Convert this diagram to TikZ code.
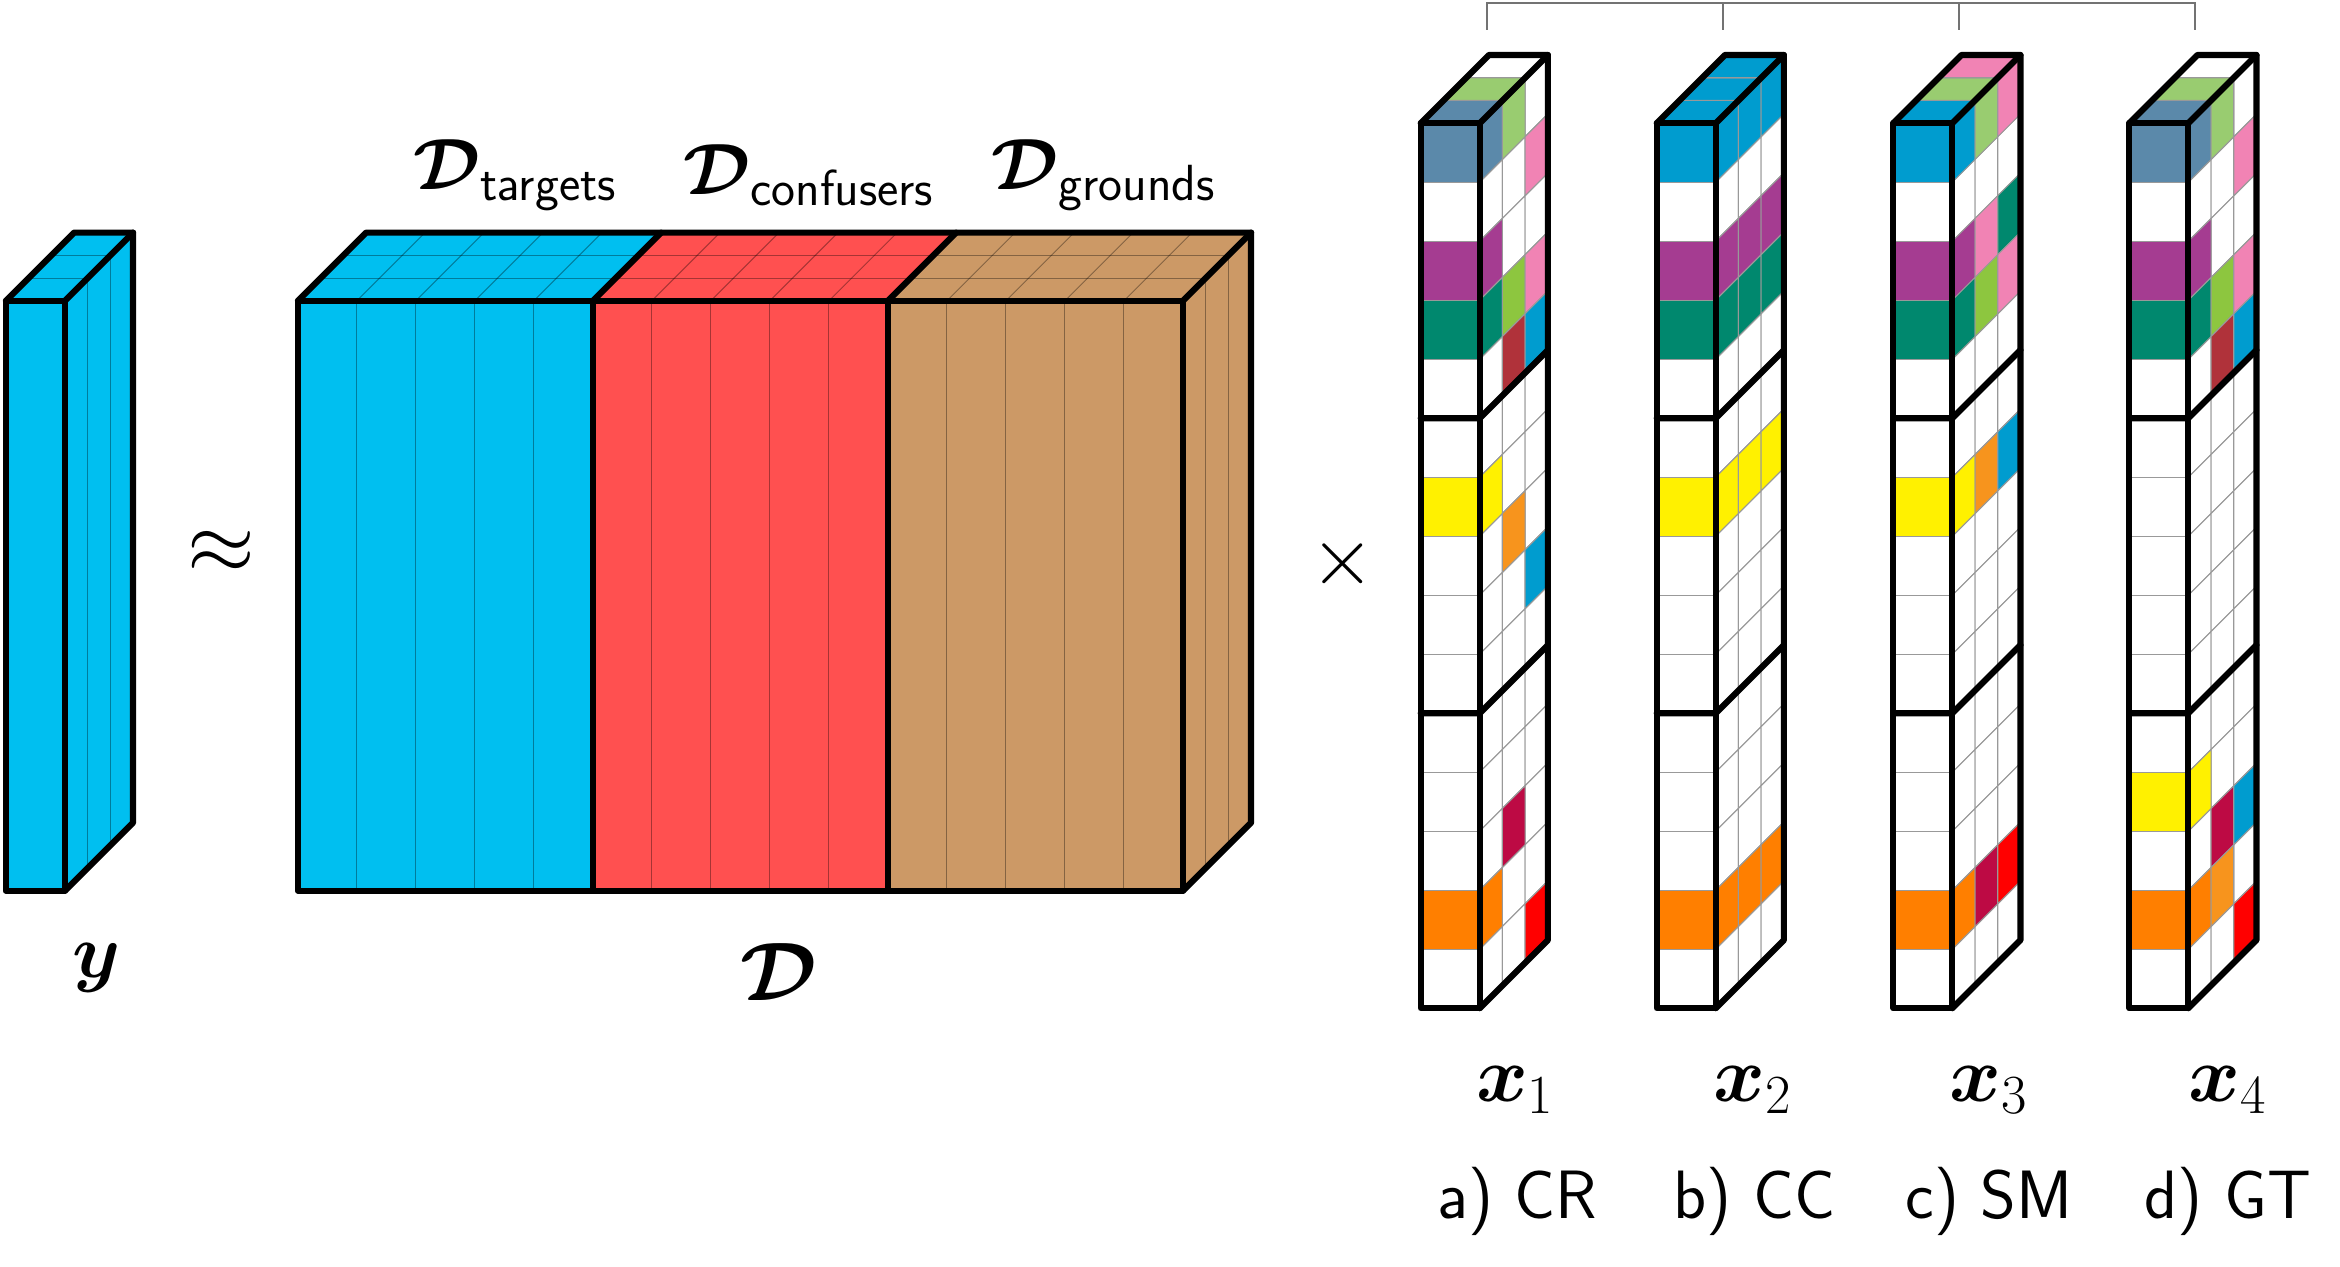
\RequirePackage{fix-cm}
\documentclass[tikz,border=0pt]{standalone}
\usepackage{amsmath,bm}
\usetikzlibrary{positioning}

%% colours
\definecolor{cCyan}{HTML}{00BFF0}
\definecolor{cSalmon}{HTML}{FF5050}
\definecolor{cTan}{HTML}{CC9966}
\definecolor{cSteel}{HTML}{5B89AA}
\definecolor{cLgreen}{HTML}{99CC70}
\definecolor{cPink}{HTML}{F183B4}
\definecolor{cPurple}{HTML}{A53C91}
\definecolor{cTeal}{HTML}{00886E}
\definecolor{cLime}{HTML}{8DC63F}
\definecolor{cDred}{HTML}{B0323A}
\definecolor{cBlue}{HTML}{009CCF}
\definecolor{cYellow}{HTML}{FFF100}
\definecolor{cOrangeB}{HTML}{F7941D}
\definecolor{cOrange}{HTML}{FF7F00}
\definecolor{cCrimson}{HTML}{BD0A44}
\definecolor{cRed}{HTML}{FF0000}

\tikzset{
  thick line/.style={line width=3pt, line join=round, line cap=round},
  grid line/.style={draw=black!40, line width=0.5pt},
  shade line/.style={draw=black, draw opacity=0.35, line width=0.5pt},
  lbl/.style={font=\fontsize{38}{42}\selectfont, inner sep=0pt},
  caption/.style={font=\sffamily\fontsize{33}{37}\selectfont, inner sep=0pt},
}

%% depth of one layer
\newcommand{\dep}{0.385}

%% one cell of a code column: row, layer, colour
\newcommand{\xcell}[3]{%
  \pgfmathsetmacro{\ra}{-#1}%
  \pgfmathsetmacro{\rb}{-#1-1}%
  \pgfmathsetmacro{\da}{#2*\dep}%
  \pgfmathsetmacro{\db}{(#2+1)*\dep}%
  \ifnum#2=0 \filldraw[grid line, fill=#3] (0,\ra) rectangle (1,\rb);\fi
  \filldraw[grid line, fill=#3] (1+\da,\ra+\da) -- (1+\db,\ra+\db) -- (1+\db,\rb+\db) -- (1+\da,\rb+\da) -- cycle;
  \ifnum#1=0 \filldraw[grid line, fill=#3] (\da,\da) -- (1+\da,\da) -- (1+\db,\db) -- (\db,\db) -- cycle;\fi
}

%% outline of a box: width, height
\newcommand{\boxoutline}[2]{%
  \draw[thick line] (0,0) rectangle (#1,-#2);
  \draw[thick line] (0,0) -- (3*\dep,3*\dep) -- (#1+3*\dep,3*\dep) -- (#1+3*\dep,-#2+3*\dep) -- (#1,-#2);
  \draw[thick line] (#1,0) -- (#1+3*\dep,3*\dep);
}

%% empty code column with its outline
\newcommand{\xframe}{%
  \foreach \row in {0,...,14}{\foreach \lay in {0,1,2}{\xcell{\row}{\lay}{white}}}
}
\newcommand{\xoutline}{%
  \boxoutline{1}{15}
  \foreach \k in {5,10}{\draw[thick line] (0,-\k) -- (1,-\k) -- (1+3*\dep,-\k+3*\dep);}
}

\begin{document}
\begin{tikzpicture}

\useasboundingbox (0,0) rectangle (39.661,21.458);

%% y
\begin{scope}[shift={(0.1,16.36)}]
\fill[cCyan] (0,0) rectangle (1,-10);
\fill[cCyan] (1,0) -- (1+3*\dep,3*\dep) -- (1+3*\dep,-10+3*\dep) -- (1,-10) -- cycle;
\fill[cCyan] (0,0) -- (3*\dep,3*\dep) -- (1+3*\dep,3*\dep) -- (1,0) -- cycle;
\foreach \k in {1,2}{
  \draw[shade line] (1+\k*\dep,\k*\dep) -- (1+\k*\dep,-10+\k*\dep);
  \draw[shade line] (\k*\dep,\k*\dep) -- (1+\k*\dep,\k*\dep);
}
\boxoutline{1}{10}
\end{scope}

%% D
\begin{scope}[shift={(5.05,16.36)}]
\foreach \i/\col in {0/cCyan,5/cSalmon,10/cTan}{
  \fill[\col] (\i,0) rectangle (\i+5,-10);
  \fill[\col] (\i,0) -- (\i+3*\dep,3*\dep) -- (\i+5+3*\dep,3*\dep) -- (\i+5,0) -- cycle;
  \foreach \k in {1,2}{\draw[shade line] (\i+\k*\dep,\k*\dep) -- (\i+5+\k*\dep,\k*\dep);}
}
\fill[cTan] (15,0) -- (15+3*\dep,3*\dep) -- (15+3*\dep,-10+3*\dep) -- (15,-10) -- cycle;
\foreach \i in {1,...,14}{
  \draw[shade line] (\i,0) -- (\i,-10);
  \draw[shade line] (\i,0) -- (\i+3*\dep,3*\dep);
}
\foreach \k in {1,2}{\draw[shade line] (15+\k*\dep,\k*\dep) -- (15+\k*\dep,-10+\k*\dep);}
\boxoutline{15}{10}
\foreach \i in {5,10}{\draw[thick line] (\i,0) -- (\i,-10); \draw[thick line] (\i,0) -- (\i+3*\dep,3*\dep);}
\end{scope}

%% x1 (CR)
\begin{scope}[shift={(24.08,19.37)}]
\xframe
\foreach \row/\lay/\col in {0/0/cSteel,2/0/cPurple,3/0/cTeal,6/0/cYellow,13/0/cOrange,
  0/1/cLgreen,3/1/cLime,4/1/cDred,7/1/cOrangeB,12/1/cCrimson,
  1/2/cPink,3/2/cPink,4/2/cBlue,8/2/cBlue,14/2/cRed}{\xcell{\row}{\lay}{\col}}
\xoutline
\end{scope}

%% x2 (CC)
\begin{scope}[shift={(28.08,19.37)}]
\xframe
\foreach \lay in {0,1,2}{
  \foreach \row/\col in {0/cBlue,2/cPurple,3/cTeal,6/cYellow,13/cOrange}{\xcell{\row}{\lay}{\col}}
}
\xoutline
\end{scope}

%% x3 (SM)
\begin{scope}[shift={(32.09,19.37)}]
\xframe
\foreach \row/\lay/\col in {0/0/cBlue,2/0/cPurple,3/0/cTeal,6/0/cYellow,13/0/cOrange,
  0/1/cLgreen,2/1/cPink,3/1/cLime,6/1/cOrangeB,13/1/cCrimson,
  0/2/cPink,2/2/cTeal,3/2/cPink,6/2/cBlue,13/2/cRed}{\xcell{\row}{\lay}{\col}}
\xoutline
\end{scope}

%% x4 (GT)
\begin{scope}[shift={(36.09,19.37)}]
\xframe
\foreach \row/\lay/\col in {0/0/cSteel,2/0/cPurple,3/0/cTeal,11/0/cYellow,13/0/cOrange,
  0/1/cLgreen,3/1/cLime,4/1/cDred,12/1/cCrimson,13/1/cOrangeB,
  1/2/cPink,3/2/cPink,4/2/cBlue,12/2/cBlue,14/2/cRed}{\xcell{\row}{\lay}{\col}}
\xoutline
\end{scope}

%% bracket over the columns
\foreach \n/\x in {1/25.2,2/29.2,3/33.2,4/37.2}{
  \coordinate (top\n) at (\x,21.41);
  \coordinate (foot\n) at (\x,20.95);
}
\draw[black!55, line width=0.7pt] (foot1) -- (top1) -- (top4) -- (foot4);
\draw[black!55, line width=0.7pt] (top2) -- (foot2);
\draw[black!55, line width=0.7pt] (top3) -- (foot3);

%% labels
\node[lbl, font=\fontsize{37}{40}\selectfont] (ylab) at (1.64,5.05) {$\bm{y}$};
\node[lbl, font=\fontsize{40}{44}\selectfont] (dlab) at (13.2,4.98) {$\bm{\mathcal{D}}$};
\node[lbl, font=\fontsize{35}{40}\selectfont] (dtar) at (8.73,18.49) {$\bm{\mathcal{D}}_{\mathsf{targets}}$};
\node[lbl, font=\fontsize{35}{40}\selectfont] (dcon) at (13.71,18.49) {$\bm{\mathcal{D}}_{\mathsf{confusers}}$};
\node[lbl, font=\fontsize{35}{40}\selectfont] (dgro) at (18.71,18.49) {$\bm{\mathcal{D}}_{\mathsf{grounds}}$};
\node[lbl, font=\fontsize{42}{46}\selectfont] (approx) at (3.75,12.1) {$\approx$};
\node[lbl, font=\fontsize{40}{44}\selectfont] (times) at (22.76,11.9) {$\times$};

\node[lbl] (x1) at (25.68,2.99) {$\bm{x}_1$};
\node[lbl] (x2) at (29.71,2.99) {$\bm{x}_2$};
\node[lbl] (x3) at (33.71,2.99) {$\bm{x}_3$};
\node[lbl] (x4) at (37.76,2.99) {$\bm{x}_4$};

\node[caption] (cr) at (25.72,1.10) {a) CR};
\node[caption] (cc) at (29.74,1.10) {b) CC};
\node[caption] (sm) at (33.71,1.10) {c) SM};
\node[caption] (gt) at (37.76,1.10) {d) GT};

\end{tikzpicture}
\end{document}
